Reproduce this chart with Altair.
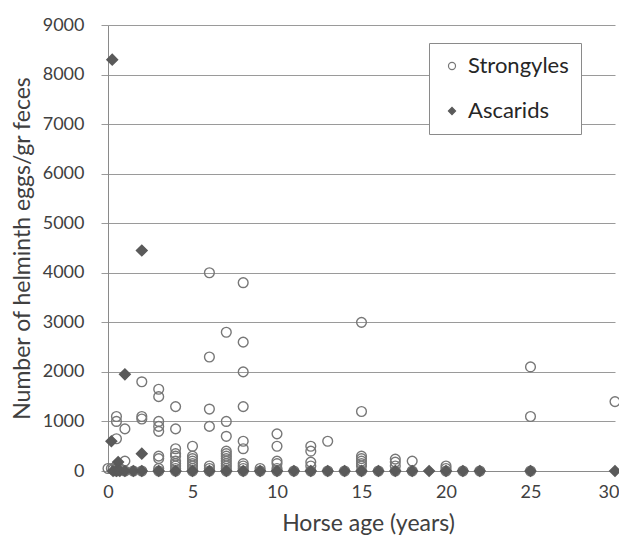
import altair as alt
import pandas as pd

# Strongyles (open circles): horse age (years), eggs per gram feces
strong_age = [0, 0.2, 0.3,
              0.5, 0.5, 0.5, 0.5, 0.5,
              0.7,
              1, 1, 1,
              1.5,
              2, 2, 2, 2,
              3, 3, 3, 3, 3, 3, 3, 3, 3,
              4, 4, 4, 4, 4, 4, 4, 4, 4, 4,
              5, 5, 5, 5, 5, 5, 5, 5,
              6, 6, 6, 6, 6, 6, 6,
              7, 7, 7, 7, 7, 7, 7, 7, 7, 7, 7, 7,
              8, 8, 8, 8, 8, 8, 8, 8, 8, 8,
              9, 9,
              10, 10, 10, 10, 10, 10,
              11,
              12, 12, 12, 12, 12,
              13, 13,
              14,
              15, 15, 15, 15, 15, 15, 15, 15,
              16,
              17, 17, 17, 17,
              18, 18,
              20, 20, 20,
              21,
              22,
              25, 25, 25,
              30]
strong_epg = [50, 50, 30,
              1100, 1000, 650, 100, 0,
              50,
              850, 200, 0,
              0,
              1800, 1100, 1050, 0,
              1650, 1500, 1000, 900, 800, 300, 250, 50, 0,
              1300, 850, 450, 350, 300, 200, 150, 100, 50, 0,
              500, 300, 250, 200, 150, 100, 50, 0,
              4000, 2300, 1250, 900, 100, 50, 0,
              2800, 1000, 700, 400, 350, 300, 250, 200, 150, 100, 50, 0,
              3800, 2600, 2000, 1300, 600, 450, 150, 100, 50, 0,
              50, 0,
              750, 500, 200, 150, 50, 0,
              0,
              500, 400, 180, 100, 0,
              600, 0,
              0,
              3000, 1200, 300, 250, 200, 150, 100, 0,
              0,
              240, 180, 100, 0,
              200, 0,
              100, 50, 0,
              0,
              0,
              2100, 1100, 0,
              1400]

# Ascarids (filled diamonds)
asc_age = [0.25, 2, 1, 0.2, 2, 0.6,
           0.3, 0.5, 0.7, 1, 1.5, 2, 3, 4, 5, 6, 7, 8, 9, 10, 11, 12,
           13, 14, 15, 16, 17, 18, 19, 20, 21, 22, 25, 30]
asc_epg = [8300, 4450, 1950, 600, 350, 180,
           0, 0, 0, 0, 0, 0, 0, 0, 0, 0, 0, 0, 0, 0, 0, 0,
           0, 0, 0, 0, 0, 0, 0, 0, 0, 0, 0, 0]

x_ticks = [0, 5, 10, 15, 20, 25, 30]
y_ticks = [0, 1000, 2000, 3000, 4000, 5000, 6000, 7000, 8000, 9000]
series = ["Strongyles", "Ascarids"]

df = pd.concat([
    pd.DataFrame({"age": strong_age, "epg": strong_epg, "type": series[0]}),
    pd.DataFrame({"age": asc_age, "epg": asc_epg, "type": series[1]}),
], ignore_index=True)
df["order"] = range(len(df))

FONT = "Lato"
TXT = "#404040"

legend = alt.Legend(
    title=None, orient="none", legendX=321, legendY=18,
    padding=12, fillColor="white", strokeColor="#8a8a8a",
    rowPadding=23, labelFontSize=22, labelFont=FONT, labelColor="#262626",
    symbolSize=50, symbolOffset=0, labelOffset=5, symbolStrokeWidth=1.2,
)

last_x = "datum.value == 30"

chart = alt.Chart(df).mark_point(strokeWidth=1.4, opacity=1).encode(
    x=alt.X("age:Q", scale=alt.Scale(domain=[0, 30], nice=False),
            axis=alt.Axis(values=x_ticks, grid=False, ticks=False, labelFlush=False,
                          labelAlign={"condition": {"test": last_x, "value": "right"}, "value": "center"},
                          labelOffset={"condition": {"test": last_x, "value": 4}, "value": 0},
                          title="Horse age (years)", labelPadding=12,
                          titleX=260, titleY=52, titleBaseline="middle",
                          titleAlign="center")),
    y=alt.Y("epg:Q", scale=alt.Scale(domain=[0, 9000], nice=False),
            axis=alt.Axis(values=y_ticks, grid=True, ticks=True, tickSize=7,
                          labelPadding=17, labelFlush=False, format="d",
                          title="Number of helminth eggs/gr feces",
                          titleX=-86, titleY=223, titleAngle=270,
                          titleBaseline="middle", titleAlign="center")),
    shape=alt.Shape("type:N", scale=alt.Scale(domain=series, range=["circle", "diamond"]), legend=legend),
    fill=alt.Fill("type:N", scale=alt.Scale(domain=series, range=["transparent", "#5a5a5a"]), legend=legend),
    stroke=alt.Stroke("type:N", scale=alt.Scale(domain=series, range=["#777777", "#5a5a5a"]), legend=legend),
    size=alt.condition(alt.datum.type == "Ascarids", alt.value(115), alt.value(95)),
    order=alt.Order("order:Q"),
).properties(
    width=507, height=446,
    autosize=alt.AutoSizeParams(type="none"),
    padding={"left": 100, "top": 17, "right": 4, "bottom": 70},
).configure_view(stroke=None).configure_axis(
    domainColor="#8a8a8a", gridColor="#9a9a9a", tickColor="#9a9a9a",
    domainWidth=1, gridWidth=1,
    labelFont=FONT, labelFontSize=18, labelColor=TXT,
    titleFont=FONT, titleFontSize=23, titleFontWeight="normal", titleColor=TXT,
)

chart.save("out.html", embed_options={"renderer": "svg", "actions": False})
